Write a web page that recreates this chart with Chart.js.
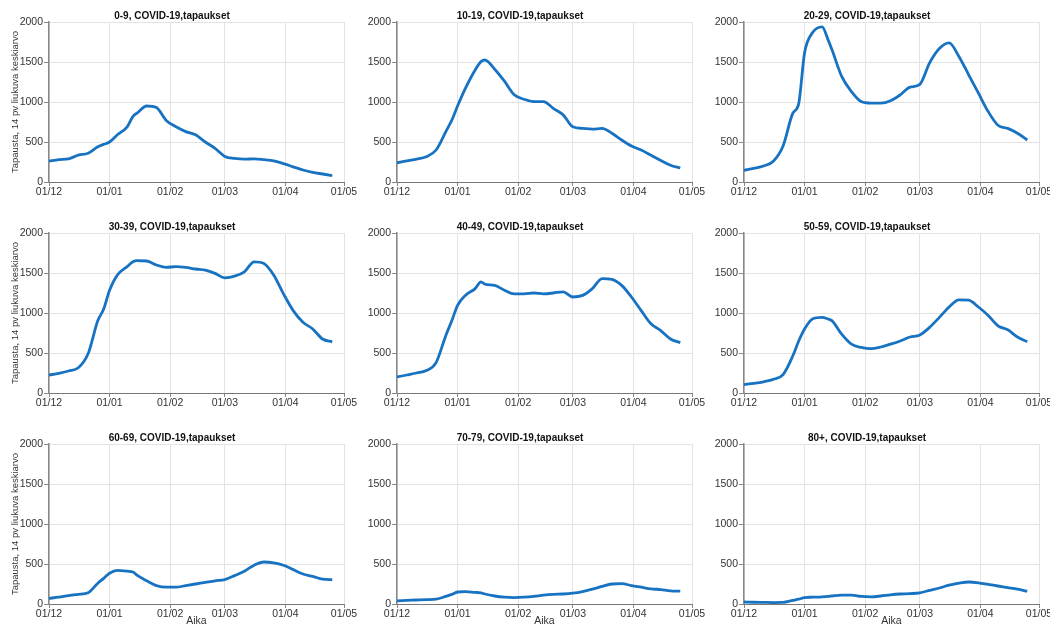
<!DOCTYPE html>
<html>
<head>
<meta charset="utf-8">
<script src="https://cdn.jsdelivr.net/npm/chart.js@4"></script>
<style>
  body { margin: 0; background: #fff; }
  #wrap { position: relative; width: 1050px; height: 625px; overflow: hidden; }
  #wrap canvas { position: absolute; }
</style>
</head>
<body>
<div id="wrap"></div>
<script>
// days since 01/12 for each reading
const days = [0,5,10,15,20,25,28,31,35,40,43,45,50,55,60,65,70,75,80,85,90,95,100,105,110,115,120,125,130,135,140,145];
const monthDays = [0, 31, 62, 90, 121, 151];
const monthLabels = ['01/12', '01/01', '01/02', '01/03', '01/04', '01/05'];
const yTicks = [0, 500, 1000, 1500, 2000];
const groups = ['0-9', '10-19', '20-29', '30-39', '40-49', '50-59', '60-69', '70-79', '80+'];

const v0_9   = [260,280,290,335,360,440,470,500,590,690,820,860,950,930,770,690,630,590,500,420,320,295,285,290,280,265,230,190,150,120,100,80];
const v10_19 = [240,265,285,315,400,630,770,950,1170,1400,1505,1525,1410,1260,1090,1035,1005,1005,920,840,690,670,660,670,610,525,450,400,335,270,210,175];
const v20_29 = [145,170,200,260,450,860,980,1615,1865,1940,1780,1655,1320,1130,1005,985,985,1015,1090,1185,1220,1490,1670,1740,1570,1340,1110,880,710,670,610,525];
const v30_39 = [225,245,275,315,490,905,1050,1285,1475,1580,1640,1655,1650,1600,1570,1580,1570,1550,1535,1495,1440,1460,1515,1640,1620,1475,1240,1030,885,800,675,640];
const v40_49 = [200,225,250,280,380,720,900,1095,1220,1305,1390,1360,1345,1285,1240,1240,1250,1240,1250,1265,1200,1220,1305,1430,1420,1345,1200,1030,865,780,675,630];
const v50_59 = [105,120,140,170,230,465,650,800,925,945,925,905,735,610,570,555,575,610,650,700,725,820,945,1075,1165,1160,1075,970,840,790,700,640];
const v60_69 = [70,85,105,120,140,260,320,385,420,410,400,360,290,230,210,210,230,250,270,290,305,355,410,485,525,515,485,430,375,345,310,305];
const v70_79 = [40,45,50,55,60,95,120,150,155,145,140,125,100,85,80,85,95,110,120,125,135,155,185,220,250,255,230,210,190,180,165,160];
const v80    = [25,22,20,18,20,45,60,80,85,90,95,100,110,110,95,90,100,115,125,130,140,170,200,235,260,275,265,245,225,205,185,160];
const seriesValues = [v0_9, v10_19, v20_29, v30_39, v40_49, v50_59, v60_69, v70_79, v80];

const FONT = "'Liberation Sans', Arial, sans-serif";
const colLeft = [0, 348, 695];
const rowTop = [0, 211, 422];
const wrap = document.getElementById('wrap');

groups.forEach((g, i) => {
    const col = i % 3, row = Math.floor(i / 3);
    const canvas = document.createElement('canvas');
    canvas.width = 393;
    canvas.height = 215;
    canvas.style.left = colLeft[col] + 'px';
    canvas.style.top = rowTop[row] + 'px';
    wrap.appendChild(canvas);

    new Chart(canvas.getContext('2d'), {
        type: 'line',
        data: {
            datasets: [{
                data: days.map((d, k) => ({ x: d, y: seriesValues[i][k] })),
                borderColor: '#1773c2',
                borderWidth: 2.8,
                pointRadius: 0,
                fill: false,
                cubicInterpolationMode: 'monotone',
            }],
        },
        options: {
            responsive: false,
            animation: false,
            layout: { autoPadding: false, padding: { left: 0, right: 49, top: 0, bottom: 0 } },
            plugins: {
                legend: { display: false },
                tooltip: { enabled: false },
                title: {
                    display: true,
                    text: g + ', COVID-19,tapaukset',
                    color: '#111',
                    font: { family: FONT, size: 10, weight: 'bold' },
                    padding: { top: 10, bottom: 0 },
                },
            },
            scales: {
                x: {
                    type: 'linear',
                    min: 0,
                    max: 151,
                    afterBuildTicks: s => { s.ticks = monthDays.map(v => ({ value: v })); },
                    afterFit: s => { s.height = 33; },
                    ticks: {
                        callback: v => monthLabels[monthDays.indexOf(v)],
                        color: '#333',
                        font: { family: FONT, size: 10.5 },
                        padding: 0,
                        maxRotation: 0,
                        autoSkip: false,
                    },
                    grid: { color: '#e3e3e3', tickLength: 4, tickColor: '#888' },
                    border: { color: '#777' },
                    title: {
                        display: row === 2,
                        text: 'Aika',
                        color: '#333',
                        font: { family: FONT, size: 10.5 },
                        padding: { top: 0, bottom: 10 },
                    },
                },
                y: {
                    min: 0,
                    max: 2000,
                    afterBuildTicks: s => { s.ticks = yTicks.map(v => ({ value: v })); },
                    afterFit: s => { s.width = 49; },
                    ticks: {
                        callback: v => String(v),
                        color: '#333',
                        font: { family: FONT, size: 10.5 },
                        padding: 1,
                    },
                    grid: { color: '#e3e3e3', tickLength: 5, tickColor: '#888' },
                    border: { color: '#888', width: 1.5 },
                    title: {
                        display: col === 0,
                        text: 'Tapausta, 14 pv liukuva keskiarvo',
                        color: '#333',
                        font: { family: FONT, size: 9.5 },
                        padding: { top: 10, bottom: 0 },
                    },
                },
            },
        },
    });
});
</script>
</body>
</html>
